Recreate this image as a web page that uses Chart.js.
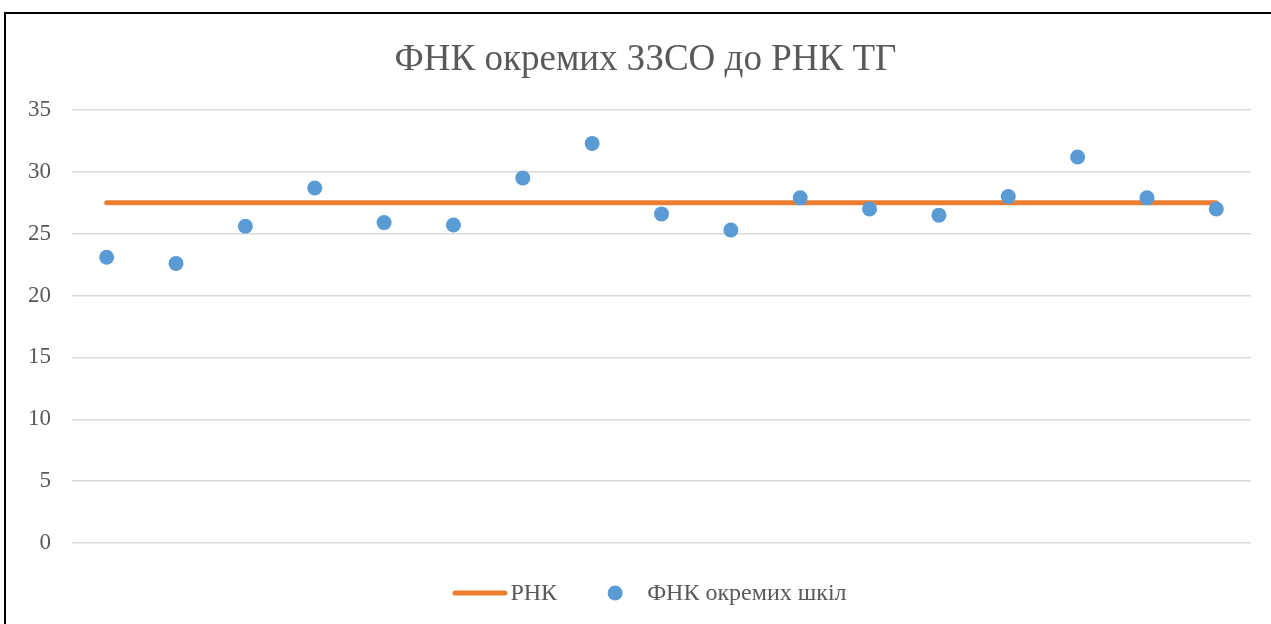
<!DOCTYPE html>
<html>
<head>
<meta charset="utf-8">
<script src="https://cdn.jsdelivr.net/npm/chart.js@4/dist/chart.umd.min.js"></script>
<style>
  html, body { margin: 0; padding: 0; background: #fff; overflow: hidden; }
  #wrap { position: relative; width: 1271px; height: 624px; overflow: hidden; }
  canvas { display: block; }
</style>
</head>
<body>
<div id="wrap"><canvas id="c" width="1291" height="624"></canvas></div>
<script>
const titleText = 'ФНК окремих ЗЗСО до РНК ТГ';
const categories = ['1','2','3','4','5','6','7','8','9','10','11','12','13','14','15','16','17'];
const schoolLabel = 'ФНК окремих шкіл';
const schoolValues = [23.1, 22.6, 25.6, 28.7, 25.9, 25.7, 29.5, 32.3, 26.6, 25.3, 27.9, 27.0, 26.5, 28.0, 31.2, 27.9, 27.0];
const rnkLabel = 'РНК';
const rnkValues = [27.5, 27.5, 27.5, 27.5, 27.5, 27.5, 27.5, 27.5, 27.5, 27.5, 27.5, 27.5, 27.5, 27.5, 27.5, 27.5, 27.5];
const yMin = 0, yMax = 35, yStep = 5;

const ORANGE = '#ed7d31';
const BLUE = '#5b9bd5';
const TEXT = '#595959';
const FONT = '"Liberation Serif", "Times New Roman", serif';

const framePlugin = {
  id: 'frame',
  afterDraw(chart) {
    const ctx = chart.ctx;
    ctx.save();
    ctx.strokeStyle = '#000';
    ctx.lineWidth = 2;
    ctx.beginPath();
    ctx.moveTo(5, 624);
    ctx.lineTo(5, 13);
    ctx.lineTo(1271, 13);
    ctx.stroke();
    ctx.restore();
  }
};

const legendPlugin = {
  id: 'customLegend',
  afterDraw(chart) {
    const ctx = chart.ctx;
    ctx.save();
    ctx.font = '24px ' + FONT;
    ctx.textBaseline = 'middle';
    ctx.fillStyle = TEXT;
    const y = 593;
    const lineLen = 55, gap1 = 3, gap2 = 58, gap3 = 32;
    const w1 = ctx.measureText(rnkLabel).width;
    const w2 = ctx.measureText(schoolLabel).width;
    const total = lineLen + gap1 + w1 + gap2 + gap3 + w2;
    let x = 649.5 - total / 2;
    ctx.strokeStyle = ORANGE;
    ctx.lineWidth = 5;
    ctx.lineCap = 'round';
    ctx.beginPath();
    ctx.moveTo(x + 2.5, y);
    ctx.lineTo(x + lineLen - 2.5, y);
    ctx.stroke();
    x += lineLen + gap1;
    ctx.fillText(rnkLabel, x, y + 1);
    x += w1 + gap2;
    ctx.fillStyle = BLUE;
    ctx.beginPath();
    ctx.arc(x, y, 7.5, 0, Math.PI * 2);
    ctx.fill();
    x += gap3;
    ctx.fillStyle = TEXT;
    ctx.fillText(schoolLabel, x, y + 1);
    ctx.restore();
  }
};

new Chart(document.getElementById('c'), {
  type: 'line',
  data: {
    labels: categories,
    datasets: [
      {
        label: schoolLabel,
        data: schoolValues,
        showLine: false,
        pointRadius: 7.5,
        pointHoverRadius: 7.5,
        pointBackgroundColor: BLUE,
        pointBorderColor: BLUE,
        pointBorderWidth: 0,
        order: 0
      },
      {
        label: rnkLabel,
        data: rnkValues,
        borderColor: ORANGE,
        borderWidth: 5,
        borderCapStyle: 'round',
        pointRadius: 0,
        tension: 0,
        order: 1
      }
    ]
  },
  options: {
    responsive: false,
    animation: false,
    events: [],
    layout: { padding: { left: 0, right: 0, top: 0, bottom: 81 } },
    plugins: {
      legend: { display: false },
      tooltip: { enabled: false },
      title: {
        display: true,
        text: titleText,
        color: TEXT,
        font: { family: FONT, size: 37, weight: 'normal', lineHeight: 1.2 },
        padding: { top: 38, bottom: 27.6 }
      }
    },
    scales: {
      x: {
        type: 'category',
        offset: true,
        display: false
      },
      y: {
        min: yMin,
        max: yMax,
        border: { display: false },
        grid: { color: '#d9d9d9', lineWidth: 1.5, drawTicks: false },
        ticks: {
          stepSize: yStep,
          color: TEXT,
          padding: 21,
          font: { family: FONT, size: 23 }
        },
        afterFit(scale) { scale.width = 72; }
      },
      yRight: {
        position: 'right',
        min: yMin,
        max: yMax,
        border: { display: false },
        grid: { display: false },
        ticks: { display: false },
        afterFit(scale) { scale.width = 40; }
      }
    }
  },
  plugins: [framePlugin, legendPlugin]
});
</script>
</body>
</html>
